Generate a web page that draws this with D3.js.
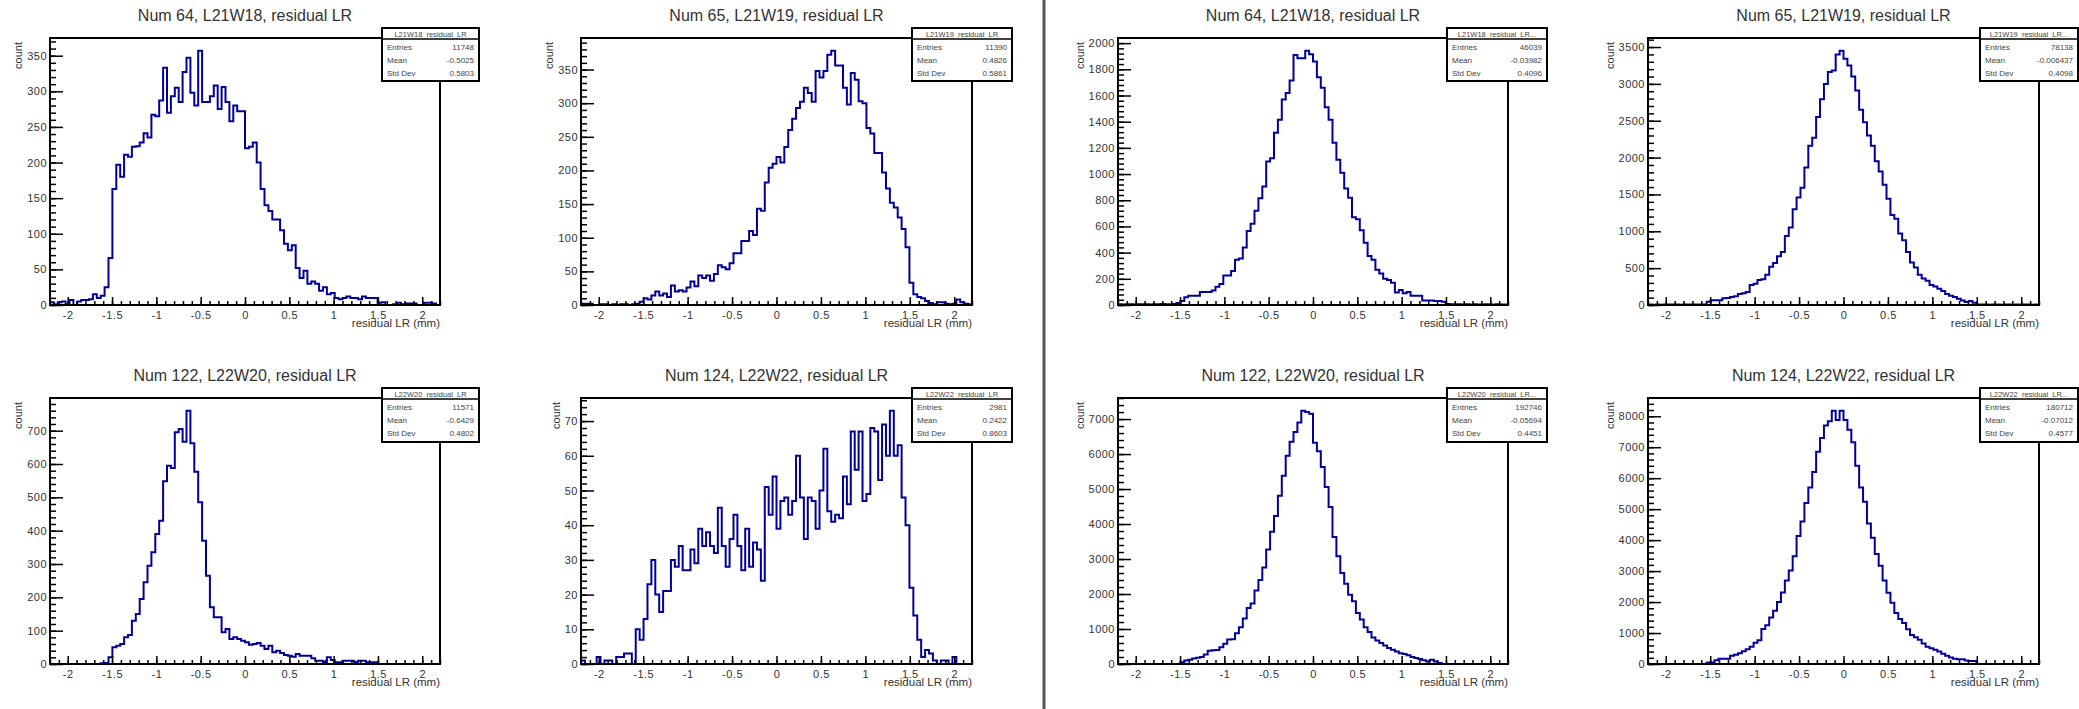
<!DOCTYPE html>
<html>
<head>
<meta charset="utf-8">
<script src="https://cdn.jsdelivr.net/npm/d3@7"></script>
<style>
  html, body { margin: 0; padding: 0; background: #fff; }
  svg { display: block; font-family: "Liberation Sans", Arial, Helvetica, sans-serif; }
</style>
</head>
<body>
<div id="canvas"></div>
<script>
// Binning shared by every histogram (residual LR in mm)
const xMin = -2.2, xMax = 2.2, nBins = 100;
const xTicks = [-2, -1.5, -1, -0.5, 0, 0.5, 1, 1.5, 2];

// Bin contents, left half of the picture
const leftNum64 = [4,1,4,5,1,7,0,5,7,7, 8,15,10,13,25,66,163,197,180,211, 208,222,223,228,241,235,267,265,287,333,
  270,293,305,285,327,347,298,280,357,285, 285,293,308,275,306,285,258,280,272,272, 220,222,228,200,163,140,132,120,120,105,
  86,77,84,52,38,48,30,33,30,20, 25,15,17,10,8,10,12,10,10,8, 12,10,10,10,3,4,0,0,1,3, 1,2,2,2,0,0,3,3,2,0];
const leftNum65 = [2,2,2,0,0,1,1,0,1,0,1,1,0,1,2, 5,10,8,14,20,14,17,12,29,20, 22,20,26,35,28,44,40,44,36,46,
  59,56,53,62,77,77,95,95,110,104, 143,140,182,204,210,220,212,235,260,277, 293,302,323,315,302,348,338,348,372,378,
  356,356,323,298,345,335,303,300,263,255, 226,226,197,173,152,145,130,113,86,33, 16,12,10,6,3,1,4,4,2,1,2,8,4,2,1];
const leftNum122 = [0,0,0,0,0,0,0,0,0,0,0,0,0, 2,3,20,50,55,60,80, 87,130,150,195,245,295,335,390,430,548,
  595,588,695,705,667,760,662,577,485,370, 265,170,140,140,95,105,75,80,75,70, 65,58,60,63,55,45,55,35,40,33,
  27,25,22,30,25,25,25,17,10,10, 5,20,12,5,5,10,10,10,6,10, 10,5,5,5, 0,0,0,0,0,0,0,0,0,0,0,0,0,0,0,0];
const leftNum124 = [1,0,0,0,2,0,1,1,0,2, 2,3,3,0,10,7,13,23,30,20, 15,21,21,30,28,34,27,27,33,29,
  39,34,38,34,32,45,34,28,36,43, 34,27,39,28,35,33,24,51,43,54, 39,47,48,43,47,60,48,36,48,47,
  39,50,62,44,41,43,42,54,46,67, 56,67,47,49,68,67,53,69,60,73, 60,63,48,40,22,14,7,2,4,3, 1,0,1,1,0,2,0,0,0,0];

// Bin contents, right half of the picture
const rightNum64 = [5,4,5,6,4,5,6,5,4,6,5,7,6,5,8, 15,30,60,70,70,70,100,100,100,110,
  140,160,225,225,260,345,355,440,565,620, 720,815,905,1095,1120,1315,1415,1570,1620,1715,
  1910,1885,1885,1942,1915,1860,1740,1660,1510,1415, 1240,1110,1010,890,820,670,655,570,475,375,
  345,270,240,200,190,170,95,115,90,100, 70,70,70,35,35,35,30,30,25,8, 6,5,6,4,5,4,5,3,4,5,4,3,5,4,3];
const rightNum65 = [6,5,7,5,6,8,6,7,5,6,7,6,8,7,6, 45,65,65,65,90,95,110,120,150,160,
  175,270,290,340,350,410,520,570,660,720, 935,1050,1300,1460,1590,1865,2160,2270,2550,2790,
  3000,3160,3180,3400,3450,3340,3250,3100,2910,2650, 2480,2300,2160,1950,1810,1630,1440,1220,1170,970,
  880,720,575,510,410,360,330,270,250,220, 190,150,125,110,85,60,40,55,30,8, 6,7,5,6,8,5,6,7,5,6,5,7,6,5,6];
const rightNum122 = [0,0,0,0,0,0,0,0,0,0,0,0,0,0,0,0, 50,100,120,160,
  180,200,270,380,390,400,480,580,700,710, 880,1050,1300,1600,1730,2100,2400,2760,3270,3780,
  4230,4810,5380,5950,6350,6630,6900,7240,7200,7150, 6320,6080,5630,5060,4490,3630,3080,2600,2290,1980,
  1790,1460,1270,1050,915,760,670,600,530,460, 410,360,310,285,250,200,170,140,105,75,
  120,75,30, 0,0,0,0,0,0,0,0,0,0,0,0,0,0,0,0,0];
const rightNum124 = [0,0,0,0,0,0,0,0,0,0,0,0,0,0,0, 50,50,120,170,170,170,270,300,350,410,
  480,560,690,770,1130,1250,1500,1720,2000,2310, 2700,3020,3480,4130,4600,5200,5700,6200,6850,7300,
  7700,7840,8180,7880,8180,7880,7560,7160,6400,5700, 5240,4540,4080,3550,3170,2700,2300,1980,1650,1450,
  1320,1120,940,860,780,660,560,510,460,400, 330,270,210,170,150,150,110,100,100,
  0,0,0,0,0,0,0,0,0,0,0,0,0,0,0,0];

// Pads in reading order (top row, then bottom row)
const histograms = [leftNum64, leftNum65, rightNum64, rightNum65, leftNum122, leftNum124, rightNum122, rightNum124];
const titles = ["Num 64, L21W18, residual LR", "Num 65, L21W19, residual LR",
  "Num 64, L21W18, residual LR", "Num 65, L21W19, residual LR",
  "Num 122, L22W20, residual LR", "Num 124, L22W22, residual LR",
  "Num 122, L22W20, residual LR", "Num 124, L22W22, residual LR"];
const statNames = ["L21W18_residual_LR", "L21W19_residual_LR", "L21W18_residual_LR...", "L21W19_residual_LR...",
  "L22W20_residual_LR", "L22W22_residual_LR", "L22W20_residual_LR...", "L22W22_residual_LR..."];
const statEntries = ["11748", "11390", "46039", "78138", "11571", "2981", "192746", "180712"];
const statMeans = ["-0.5025", "0.4826", "-0.03982", "-0.006437", "-0.6429", "0.2422", "-0.05694", "-0.07012"];
const statStdDevs = ["0.5803", "0.5861", "0.4096", "0.4098", "0.4802", "0.8603", "0.4451", "0.4577"];

// Page geometry (ROOT canvas divisions)
const columns = [
  { frameL: 50, frameR: 440, boxL: 382, boxR: 479 },
  { frameL: 581, frameR: 972, boxL: 912, boxR: 1012 },
  { frameL: 1118, frameR: 1508, boxL: 1447, boxR: 1547 },
  { frameL: 1648, frameR: 2039, boxL: 1980, boxR: 2078 }
];
const rows = [
  { frameT: 38, frameB: 305, boxT: 28, boxB: 81 },
  { frameT: 398, frameB: 664, boxT: 388, boxB: 442 }
];
const histColor = "#000099";
const textColor = "#333";

const svg = d3.select("#canvas")
  .append("svg")
  .attr("width", 2079)
  .attr("height", 709);

// Separator between the two canvases
svg.append("line")
  .attr("x1", 1044).attr("x2", 1044)
  .attr("y1", 0).attr("y2", 709)
  .attr("stroke", "#555")
  .attr("stroke-width", 3);

const styleAxis = (g, fontSize) => {
  g.select(".domain").remove();
  g.selectAll(".tick line").attr("stroke", "#000").attr("stroke-width", 1.5);
  g.selectAll(".tick text")
    .attr("fill", textColor)
    .style("font-size", fontSize + "px")
    .style("font-family", "'Liberation Sans', Arial, sans-serif")
    .style("letter-spacing", "0.5px");
};

histograms.forEach((counts, k) => {
  const col = columns[k % 4];
  const row = rows[Math.floor(k / 4)];
  const g = svg.append("g").attr("class", "pad");

  const x = d3.scaleLinear().domain([xMin, xMax]).range([col.frameL, col.frameR]);
  const y = d3.scaleLinear().domain([0, d3.max(counts) * 1.05]).range([row.frameB, row.frameT]);

  // Histogram outline as a step line over the bin edges
  const edges = d3.range(nBins + 1).map(i => xMin + i * (xMax - xMin) / nBins);
  const points = counts.map((c, i) => [edges[i], c]).concat([[edges[nBins], counts[nBins - 1]]]);
  const line = d3.line()
    .x(d => x(d[0]))
    .y(d => y(d[1]))
    .curve(d3.curveStepAfter);

  g.append("path")
    .attr("d", line(points))
    .attr("fill", "none")
    .attr("stroke", histColor)
    .attr("stroke-width", 2);

  // Y axis: major ticks with labels, minor ticks in fifths
  const yMajor = y.ticks(10);
  const minorStep = (yMajor[1] - yMajor[0]) / 5;
  const yMinor = d3.range(0, Math.floor(y.domain()[1] / minorStep) + 1).map(m => m * minorStep);

  g.append("g")
    .attr("transform", `translate(${col.frameL},0)`)
    .call(d3.axisLeft(y).tickValues(yMinor).tickSize(-6).tickFormat(""))
    .call(a => styleAxis(a, 11));

  const yAxis = g.append("g")
    .attr("transform", `translate(${col.frameL},0)`)
    .call(d3.axisLeft(y).tickValues(yMajor).tickSize(-13).tickPadding(3).tickFormat(d => String(d)))
    .call(a => styleAxis(a, 11));

  // X axis
  const xMinor = d3.range(-22, 23).map(m => m / 10);
  g.append("g")
    .attr("transform", `translate(0,${row.frameB})`)
    .call(d3.axisBottom(x).tickValues(xMinor).tickSize(-4).tickFormat(""))
    .call(a => styleAxis(a, 11));

  g.append("g")
    .attr("transform", `translate(0,${row.frameB})`)
    .call(d3.axisBottom(x).tickValues(xTicks).tickSize(-8).tickPadding(6).tickFormat(d => String(d)))
    .call(a => styleAxis(a, 11));

  // Frame
  g.append("rect")
    .attr("x", col.frameL)
    .attr("y", row.frameT)
    .attr("width", col.frameR - col.frameL)
    .attr("height", row.frameB - row.frameT)
    .attr("fill", "none")
    .attr("stroke", "#000")
    .attr("stroke-width", 2);

  // Title
  g.append("text")
    .attr("x", (col.frameL + col.frameR) / 2)
    .attr("y", row.frameT - 17)
    .attr("text-anchor", "middle")
    .attr("fill", textColor)
    .style("font-size", "16px")
    .text(titles[k]);

  // Axis titles
  g.append("text")
    .attr("x", col.frameR)
    .attr("y", row.frameB + 22)
    .attr("text-anchor", "end")
    .attr("fill", textColor)
    .style("font-size", "11.5px")
    .text("residual LR (mm)");

  let labelW = 0;
  yAxis.selectAll(".tick text").each(function () {
    labelW = Math.max(labelW, this.getComputedTextLength());
  });
  const countX = col.frameL - 3 - labelW - 8;
  g.append("text")
    .attr("transform", `translate(${countX + 3},${row.frameT + 4}) rotate(-90)`)
    .attr("text-anchor", "end")
    .attr("fill", textColor)
    .style("font-size", "11px")
    .text("count");

  // Statistics box
  const bx = col.boxL, bw = col.boxR - col.boxL, by = row.boxT, bh = row.boxB - row.boxT;
  const box = g.append("g").attr("class", "stats");
  box.append("rect")
    .attr("x", bx).attr("y", by)
    .attr("width", bw).attr("height", bh)
    .attr("fill", "#fff")
    .attr("stroke", "#000")
    .attr("stroke-width", 2);
  box.append("line")
    .attr("x1", bx).attr("x2", bx + bw)
    .attr("y1", by + 11).attr("y2", by + 11)
    .attr("stroke", "#000")
    .attr("stroke-width", 1.5);
  box.append("text")
    .attr("x", bx + bw / 2)
    .attr("y", by + 8.5)
    .attr("text-anchor", "middle")
    .attr("fill", "#444")
    .style("font-size", "7.5px")
    .text(statNames[k]);

  const statRows = [["Entries", statEntries[k]], ["Mean", statMeans[k]], ["Std Dev", statStdDevs[k]]];
  statRows.forEach((r, j) => {
    box.append("text")
      .attr("x", bx + 5)
      .attr("y", by + 21.5 + j * 13)
      .attr("fill", "#444")
      .style("font-size", "8px")
      .text(r[0]);
    box.append("text")
      .attr("x", bx + bw - 5)
      .attr("y", by + 21.5 + j * 13)
      .attr("text-anchor", "end")
      .attr("fill", "#444")
      .style("font-size", "8px")
      .text(r[1]);
  });
});
</script>
</body>
</html>
